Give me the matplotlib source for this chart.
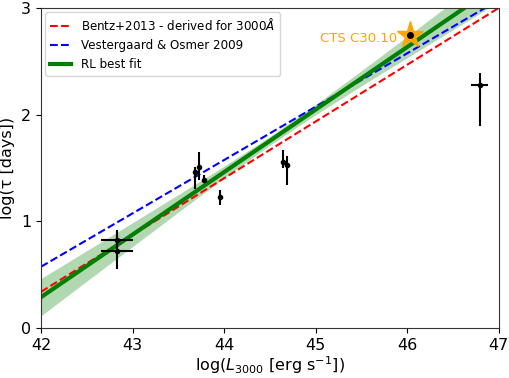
import matplotlib.pyplot as plt
import numpy as np

# relations (end points over the plotted range)
line_x = [42, 47]
bentz_y = [0.34, 3.0]
vo_y = [0.575, 3.075]
fit_y = [0.29, 3.22]

# confidence band of the fit
band_x = [42, 42.5, 43, 43.5, 44, 44.5, 45, 45.5, 46, 46.5, 47]
band_lo = [0.115, 0.44, 0.764, 1.087, 1.406, 1.715, 2.0, 2.27, 2.534, 2.796, 3.058]
band_hi = [0.465, 0.726, 0.988, 1.251, 1.518, 1.795, 2.096, 2.412, 2.734, 3.058, 3.382]

# reverberation sample
logL = [42.83, 42.83, 43.68, 43.73, 43.78, 43.95, 44.64, 44.69, 46.79]
logL_err = [0.18, 0.18, 0.0, 0.0, 0.0, 0.0, 0.0, 0.0, 0.09]
logtau = [0.825, 0.72, 1.46, 1.51, 1.39, 1.23, 1.56, 1.53, 2.28]
tau_lo = [0.09, 0.17, 0.16, 0.12, 0.03, 0.08, 0.06, 0.19, 0.39]
tau_hi = [0.09, 0.17, 0.05, 0.14, 0.04, 0.06, 0.11, 0.08, 0.11]

# CTS C30.10
cts_L = 46.03
cts_tau = 2.75

fig = plt.figure(figsize=(5.1, 3.78), dpi=100)
ax = fig.add_axes([0.0804, 0.132, 0.8976, 0.847])

ax.fill_between(band_x, band_lo, band_hi, color="green", alpha=0.3, lw=0)
ax.plot(line_x, bentz_y, "r--", lw=1.5, label=r"Bentz+2013 - derived for 3000$\AA$")
ax.plot(line_x, vo_y, "b--", lw=1.5, label="Vestergaard & Osmer 2009")
ax.plot(line_x, fit_y, color="green", lw=3, label="RL best fit")

ax.errorbar(logL, logtau, xerr=logL_err, yerr=[tau_lo, tau_hi],
            fmt="o", color="k", ms=3, elinewidth=1.5, capsize=0)

ax.plot(cts_L, cts_tau, marker="*", ms=20, color="orange", ls="none")
ax.plot(cts_L, cts_tau, "ko", ms=4)
ax.text(cts_L - 0.14, cts_tau - 0.04, "CTS C30.10", color="orange",
        fontsize=9.5, ha="right", va="center")

ax.set_xlim(42, 47)
ax.set_ylim(0, 3)
ax.set_xticks([42, 43, 44, 45, 46, 47])
ax.set_yticks([0, 1, 2, 3])
ax.tick_params(labelsize=11.5)
ax.set_xlabel(r"log($L_{3000}$ [erg s$^{-1}$])", fontsize=11.5, labelpad=1)
ax.set_ylabel("log(τ [days])", fontsize=11.5, labelpad=4)
for s in ax.spines.values():
    s.set_color("#333333")

ax.legend(loc="upper left", fontsize=8.6, handlelength=1.8, borderaxespad=0.35)

fig.savefig("out.png", dpi=100)
